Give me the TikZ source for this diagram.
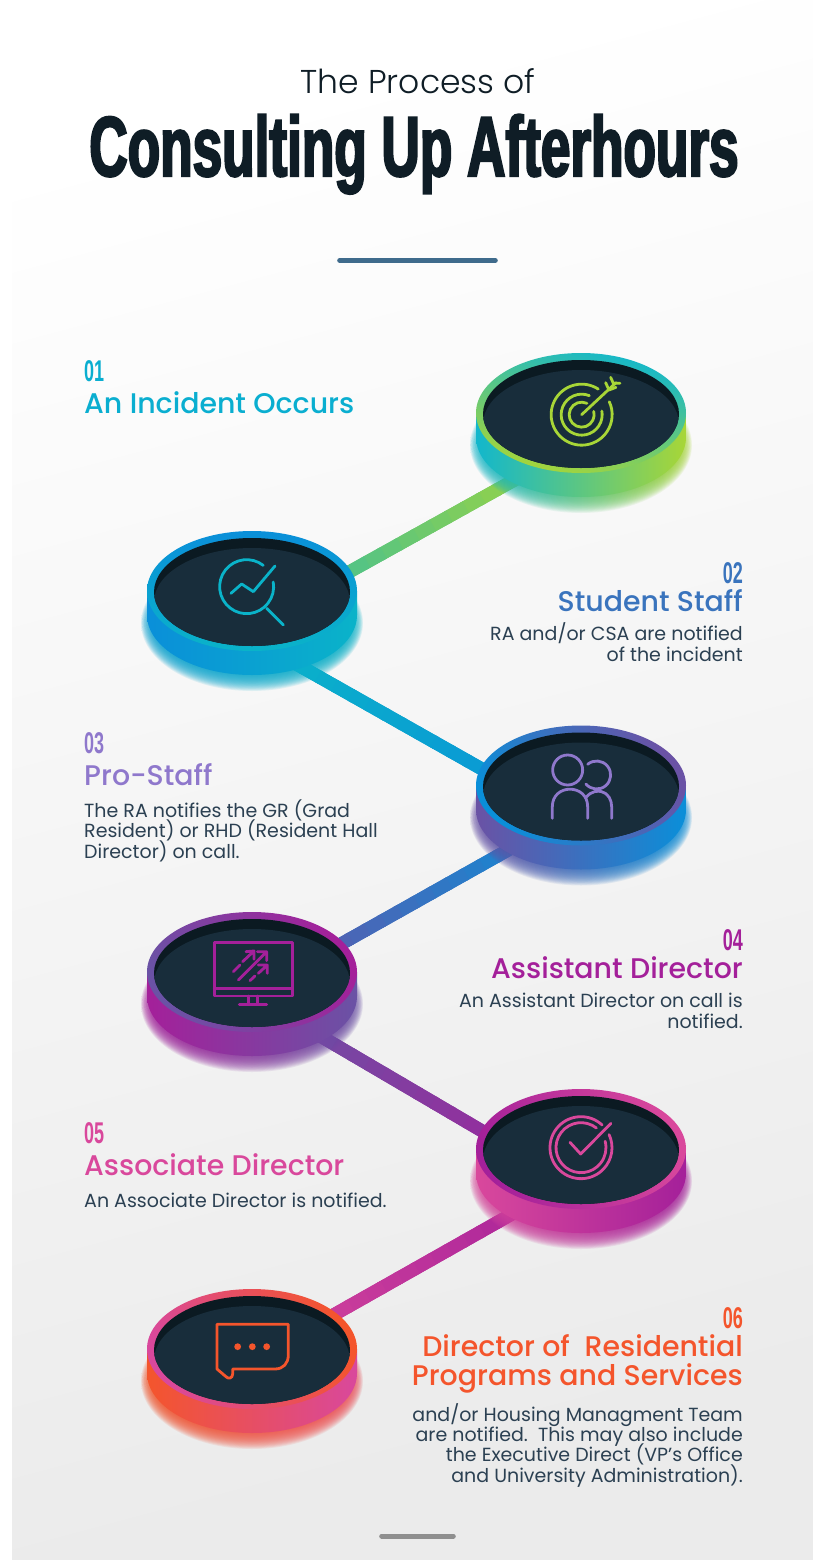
\documentclass[tikz,border=0pt]{standalone}
\usepackage{fontspec}
\usetikzlibrary{calc,shapes.geometric}
\setmainfont{Poppins}
\newfontface\titlefont{Liberation Sans Bold}[FakeStretch=0.625,FakeBold=2.5]
\newfontface\numfont{Liberation Sans Bold}[FakeStretch=0.6]
\newfontface\leadfont{Poppins Light}
\newfontface\headfont{Poppins Medium}
\newcommand\tightlines{\setlength{\lineskiplimit}{-20pt}}
\definecolor{ink}{HTML}{0F1D26}
\definecolor{body}{HTML}{2B4052}
\definecolor{rulea}{HTML}{3F6B8C}
\definecolor{ruleb}{HTML}{8F8F8F}
\definecolor{hole}{HTML}{0B1A22}
\definecolor{face}{HTML}{182D3B}
\definecolor{teal}{HTML}{12B7CC}
\definecolor{lime}{HTML}{A8D637}
\definecolor{sky}{HTML}{0A8FD9}
\definecolor{cyan2}{HTML}{0AB3C9}
\definecolor{violet2}{HTML}{6A52A5}
\definecolor{magenta2}{HTML}{A4209A}
\definecolor{pink2}{HTML}{D9489C}
\definecolor{orange2}{HTML}{F4552C}
\definecolor{lilac}{HTML}{8F78CC}
\definecolor{stud}{HTML}{3A74BD}
\definecolor{inc}{HTML}{0AAED0}
\tikzset{
  x=1pt,y=-1pt,
  lbl/.style={inner sep=0pt,outer sep=0pt,font=#1},
  num/.style={inner sep=0pt,font=\numfont\fontsize{30}{30}\selectfont},
  hd/.style={inner sep=0pt,align=right,font=\headfont\fontsize{28.4}{28.5}\selectfont\tightlines},
  bd/.style={inner sep=0pt,text=body,font=\fontsize{19}{20.3}\selectfont\tightlines},
  icon/.style={line width=2.8pt,line cap=round,line join=round,draw=#1},
  link/.style={line width=13pt,line cap=butt},
  diskshape/.style={ellipse,minimum width=210pt,minimum height=120pt,inner sep=0pt}
}
\newcommand\linkdraw[4]{%
  \draw[link,color=#3!50!#4] (#1) -- (#2);
  \foreach \t in {0,1,...,19}{
    \pgfmathsetmacro\ta{\t/20}\pgfmathsetmacro\tb{(\t+1.2)/20}\pgfmathtruncatemacro\mx{100-\t*5}
    \draw[link,color=#3!\mx!#4] ($(#1)!\ta!(#2)$) -- ($(#1)!\tb!(#2)$);
  }}
\newcommand\diskglow[5]{%
  \foreach \k in {0,1,...,19}{
    \shade[opacity=.1,left color=#3,middle color=#4,right color=#5]
      (#1,#2+32) ellipse [x radius={111pt-0.7*\k pt},y radius={68pt-0.9*\k pt}];
  }}
\newcommand\diskbody[8]{%
  \begin{scope}[shift={(#2,#3)}]
    \shade[left color=#4,right color=#5]
      (-105,0) -- (-105,24) .. controls (-105,57) and (-58,84) .. (0,84)
      .. controls (58,84) and (105,57) .. (105,24) -- (105,0) -- cycle;
    \node[diskshape,top color=#6,bottom color=#7,shading angle=#8] (#1) at (0,0) {};
    \fill[hole] (0,1) ellipse [x radius=98pt,y radius=54pt];
    \begin{scope}
      \clip (0,1) ellipse [x radius=98pt,y radius=54pt];
      \fill[face] (0,11) ellipse [x radius=98pt,y radius=54pt];
    \end{scope}
  \end{scope}}
\begin{document}
\begin{tikzpicture}
\useasboundingbox (0,0) rectangle (812,1560);
\fill[white] (0,0) rectangle (812,1560);
\shade[top color=white,middle color=black!3.5,bottom color=black!8,shading angle=15] (12,0) rectangle (830,1560);

% connector ends
\coordinate (h12a) at (581,443); \coordinate (h12b) at (252,626);
\coordinate (h23a) at (252,639); \coordinate (h23b) at (581,825);
\coordinate (h34a) at (581,809); \coordinate (h34b) at (252,994);
\coordinate (h45a) at (252,996); \coordinate (h45b) at (581,1189);
\coordinate (h56a) at (581,1175); \coordinate (h56b) at (252,1361);
\linkdraw{h12a}{h12b}{lime}{cyan2!80!lime}
\linkdraw{h23a}{h23b}{cyan2}{sky}
\linkdraw{h34a}{h34b}{sky}{violet2}
\linkdraw{h45a}{h45b}{violet2}{magenta2}
\linkdraw{h56a}{h56b}{magenta2}{pink2}

\diskglow{581}{413}{teal}{teal}{lime}
\diskglow{252}{591}{sky!50!cyan2}{cyan2}{cyan2}
\diskglow{581}{785.5}{violet2}{violet2}{sky}
\diskglow{252}{972}{magenta2}{magenta2}{violet2}
\diskglow{581}{1149}{pink2}{pink2}{magenta2}
\diskglow{252}{1349}{orange2}{orange2}{pink2!40!orange2}

\diskbody{d1}{581}{413}{teal}{lime}{teal}{lime}{-15}
\diskbody{d2}{252}{591}{sky}{cyan2}{sky}{cyan2}{0}
\diskbody{d3}{581}{785.5}{violet2}{sky}{violet2}{sky}{-60}
\diskbody{d4}{252}{972}{magenta2}{violet2}{magenta2}{violet2}{-65}
\diskbody{d5}{581}{1149}{pink2}{magenta2}{pink2}{magenta2}{-70}
\diskbody{d6}{252}{1349}{orange2}{pink2}{orange2}{pink2}{-70}

% icon 1: target
\begin{scope}[shift={(440,340)},x=0.3333pt,y=-0.3333pt,icon=lime]
  \draw (425,224) ++(57:30.5pt) arc [start angle=57,end angle=385,radius=30.5pt];
  \draw (425,224) ++(68:20.5pt) arc [start angle=68,end angle=370,radius=20.5pt];
  \draw (425,224) ++(65:12.5pt) arc [start angle=65,end angle=375,radius=12.5pt];
  \draw (425,224) -- (528,128);
  \draw (497,128) -- (507,150) -- (528,142);
  \draw (512,112) -- (520,130) -- (540,130);
\end{scope}
% icon 2: magnifier
\begin{scope}[shift={(120,510)},x=0.3333pt,y=-0.3333pt,icon=cyan2]
  \draw (380,230) ++(52:27pt) arc [start angle=52,end angle=370,radius=27pt];
  \draw (333,250) -- (365,222) -- (400,245) -- (465,168);
  \draw (440,295) -- (490,345);
\end{scope}
% icon 3: people
\begin{scope}[shift={(460,720)},x=0.3333pt,y=-0.3333pt,icon=lilac]
  \draw (323,150) circle [radius=15pt];
  \draw (410,165) ++(220:14pt) arc [start angle=220,end angle=490,radius=14pt];
  \draw (277,295) -- (277,260) .. controls (277,190) and (383,190) .. (383,260) -- (383,295);
  \draw (378,232) .. controls (395,212) and (415,212) .. (425,215) .. controls (445,220) and (455,240) .. (455,260) -- (455,295);
\end{scope}
% icon 4: monitor
\begin{scope}[shift={(120,890)},x=0.3333pt,y=-0.3333pt,icon=magenta2]
  \draw (283,157) rectangle (517,318);
  \draw (283,295) -- (517,295);
  \draw (385,318) -- (385,343) (412,318) -- (412,343);
  \draw (358,343) -- (440,343);
  \draw (340,245) -- (360,225) (368,215) -- (402,183) (378,185) -- (402,183) -- (402,208);
  \draw (355,270) -- (440,185) (412,185) -- (440,185) -- (440,212);
  \draw (390,272) -- (405,258) (415,250) -- (442,225) (415,225) -- (442,225) -- (442,250);
\end{scope}
% icon 5: check
\begin{scope}[shift={(460,1080)},x=0.3333pt,y=-0.3333pt,icon=pink2]
  \draw (363,203) ++(47:31pt) arc [start angle=47,end angle=385,radius=31pt];
  \draw (363,203) ++(52:25pt) arc [start angle=52,end angle=375,radius=25pt];
  \draw (330,187) -- (362,222) -- (453,130);
\end{scope}
% icon 6: chat
\begin{scope}[shift={(120,1270)},x=0.3333pt,y=-0.3333pt,icon=orange2]
  \draw (291,163) -- (505,163) -- (505,255) .. controls (505,280) and (490,297) .. (465,297)
    -- (338,297) -- (338,312) .. controls (338,325) and (325,328) .. (318,320) -- (291,297) -- cycle;
  \fill[orange2] (353,230) circle [radius=3.4pt] (397,230) circle [radius=3.4pt] (440,230) circle [radius=3.4pt];
\end{scope}

% header
\node[lbl={\leadfont\fontsize{33}{33}\selectfont},text=ink,anchor=base] (lead) at (418,93.5) {The Process of};
\node[lbl={\titlefont\fontsize{85}{85}\selectfont},text=ink,anchor=base] (title) at (414,176) {Consulting Up Afterhours};
\node[inner sep=0pt] (r1a) at (339,260.5) {}; \node[inner sep=0pt] (r1b) at (496,260.5) {};
\draw[rulea,line width=5pt,line cap=round] (r1a) -- (r1b);
\node[inner sep=0pt] (r2a) at (381,1536) {}; \node[inner sep=0pt] (r2b) at (454,1536) {};
\draw[ruleb,line width=5pt,line cap=round] (r2a) -- (r2b);

% step 1
\node[num,text=inc,anchor=base west] (n1) at (84,381) {01};
\node[hd,text=inc,anchor=base west] (t1) at (84,413) {An Incident Occurs};
% step 2
\node[num,text=stud,anchor=base east] (n2) at (743,583) {02};
\node[hd,text=stud,anchor=base east] (t2) at (743,611) {Student Staff};
\node[bd,align=right,anchor=base east] (b2) at (743,661) {RA and/or CSA are notified\\of the incident};
% step 3
\node[num,text=lilac,anchor=base west] (n3) at (84,753) {03};
\node[hd,text=lilac,anchor=base west] (t3) at (84,785) {Pro-Staff};
\node[bd,align=left,anchor=base west] (b3) at (84,858) {The RA notifies the GR (Grad\\Resident) or RHD (Resident Hall\\Director) on call.};
% step 4
\node[num,text=magenta2,anchor=base east] (n4) at (743,950) {04};
\node[hd,text=magenta2,anchor=base east] (t4) at (743,978) {Assistant Director};
\node[bd,align=right,anchor=base east] (b4) at (743,1028) {An Assistant Director on call is\\notified.};
% step 5
\node[num,text=pink2,anchor=base west] (n5) at (84,1143) {05};
\node[hd,text=pink2,anchor=base west] (t5) at (84,1175) {Associate Director};
\node[bd,anchor=base west] (b5) at (84,1207) {An Associate Director is notified.};
% step 6
\node[num,text=orange2,anchor=base east] (n6) at (743,1328) {06};
\node[hd,text=orange2,anchor=base east] (t6) at (743,1385) {Director of\ \ Residential\\Programs and Services};
\node[bd,align=right,anchor=base east] (b6) at (743,1482) {and/or Housing Managment Team\\are notified.\ \ This may also include\\the Executive Direct (VP's Office\\and University Administration).};
\end{tikzpicture}
\end{document}
